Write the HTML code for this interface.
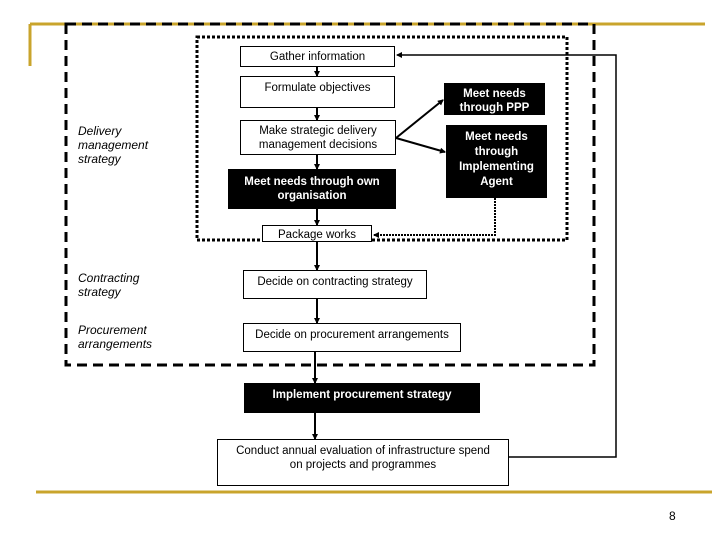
<!DOCTYPE html>
<html><head><style>
body{margin:0;background:#fff;}
.w{position:relative;width:720px;height:540px;overflow:hidden;font-family:"Liberation Sans",sans-serif;}
.b{position:absolute;box-sizing:border-box;border:1px solid #000;background:#fff;font-size:11.5px;text-align:center;line-height:14px;color:#000;}
.k{background:#000;color:#fff;font-weight:bold;}
.l{position:absolute;font-size:12px;font-style:italic;line-height:14px;left:78px;}
svg{position:absolute;left:0;top:0}
</style></head><body><div class="w">
<svg width="720" height="540">
<defs><marker id="a" markerWidth="6" markerHeight="6" refX="5" refY="3" orient="auto" markerUnits="userSpaceOnUse"><path d="M0,0L6,3L0,6z" fill="#000"/></marker></defs>
<line x1="30" y1="24" x2="705" y2="24" stroke="#c9a42c" stroke-width="3"/>
<line x1="30" y1="24" x2="30" y2="66" stroke="#c9a42c" stroke-width="3"/>
<line x1="36" y1="492" x2="712" y2="492" stroke="#c9a42c" stroke-width="3"/>
<rect x="66" y="24" width="528" height="341" fill="none" stroke="#000" stroke-width="3" stroke-dasharray="10,6"/>
<rect x="197" y="37" width="370" height="203" fill="none" stroke="#000" stroke-width="3" stroke-dasharray="3,2"/>
<g stroke="#000" stroke-width="2" fill="none" marker-end="url(#a)">
<line x1="317" y1="67" x2="317" y2="76"/>
<line x1="317" y1="108" x2="317" y2="120"/>
<line x1="317" y1="155" x2="317" y2="169"/>
<line x1="317" y1="209" x2="317" y2="225"/>
<line x1="317" y1="242" x2="317" y2="270"/>
<line x1="317" y1="299" x2="317" y2="323"/>
<line x1="315" y1="352" x2="315" y2="383"/>
<line x1="315" y1="413" x2="315" y2="439"/>
<line x1="396" y1="138" x2="443" y2="100"/>
<line x1="396" y1="138" x2="445" y2="152"/>
<polyline points="495,198 495,235 374,235" stroke-dasharray="2,1"/>
<polyline points="509,457 616,457 616,55 397,55" stroke-width="1.5"/>
</g>
</svg>
<div class="b" style="left:240px;top:46px;width:155px;height:21px;padding-top:3px">Gather information</div>
<div class="b" style="left:240px;top:76px;width:155px;height:32px;padding-top:4px">Formulate objectives</div>
<div class="b" style="left:240px;top:120px;width:156px;height:35px;padding-top:3px">Make strategic delivery<br>management decisions</div>
<div class="b k" style="left:228px;top:169px;width:168px;height:40px;padding-top:5px">Meet needs through own<br>organisation</div>
<div class="b" style="left:262px;top:225px;width:110px;height:17px;padding-top:2px">Package works</div>
<div class="b k" style="left:444px;top:83px;width:101px;height:32px;padding-top:3px">Meet needs<br>through PPP</div>
<div class="b k" style="left:446px;top:125px;width:101px;height:73px;padding-top:4px;line-height:15px">Meet needs<br>through<br>Implementing<br>Agent</div>
<div class="b" style="left:243px;top:270px;width:184px;height:29px;padding-top:4px">Decide on contracting strategy</div>
<div class="b" style="left:243px;top:323px;width:218px;height:29px;padding-top:4px">Decide on procurement arrangements</div>
<div class="b k" style="left:244px;top:383px;width:236px;height:30px;padding-top:4px">Implement procurement strategy</div>
<div class="b" style="left:217px;top:439px;width:292px;height:47px;padding-top:4px">Conduct annual evaluation of infrastructure spend<br>on projects and programmes</div>
<div class="l" style="top:124px">Delivery<br>management<br>strategy</div>
<div class="l" style="top:271px">Contracting<br>strategy</div>
<div class="l" style="top:323px">Procurement<br>arrangements</div>
<div style="position:absolute;left:669px;top:509px;font-size:12px">8</div>
</div></body></html>
